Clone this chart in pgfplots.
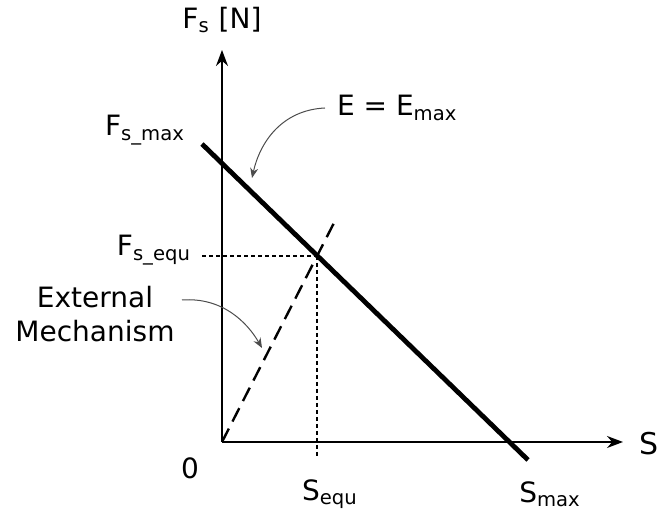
\documentclass[border=0pt]{standalone}
\usepackage{pgfplots}
\pgfplotsset{compat=1.18}
\usepackage{fontspec}
\setmainfont{DejaVu Sans}
\usetikzlibrary{arrows.meta}
\begin{document}
\begin{tikzpicture}
\begin{axis}[
  scale only axis, width=329.5pt, height=259pt,
  xmin=-222, xmax=437, ymin=-76, ymax=442,
  hide axis, clip=false,
]
\path (axis cs:-222,-76) rectangle (axis cs:437,442);
% axes
\addplot[black, line width=0.8pt, -{Stealth[length=8pt,width=6pt]}] coordinates {(0,0) (401,0)};
\addplot[black, line width=0.8pt, -{Stealth[length=8pt,width=6pt]}] coordinates {(0,0) (0,392)};
% E = Emax line
\addplot[black, line width=2.4pt] coordinates {(-20,298) (306,-18)};
% external mechanism
\addplot[black, line width=1.2pt, dash pattern=on 7.5pt off 4pt] coordinates {(0,0) (115,225)};
% dotted guides
\addplot[black, line width=0.6pt, dash pattern=on 2pt off 1.5pt] coordinates {(-20,186) (95,186)};
\addplot[black, line width=0.6pt, dash pattern=on 2pt off 1.5pt] coordinates {(95,186) (95,-15)};
% annotation arrows
\draw[black!70, line width=0.5pt, -{Stealth[length=5pt,width=4pt]}] (axis cs:103,334) .. controls (axis cs:60,332) and (axis cs:38,300) .. (axis cs:30,264);
\draw[black!70, line width=0.5pt, -{Stealth[length=5pt,width=4pt]}] (axis cs:-40,142) .. controls (axis cs:0,145) and (axis cs:25,120) .. (axis cs:40,94);
% labels
\node[font=\fontsize{14}{16}\selectfont] at (axis cs:0,422) {F\textsubscript{s} [N]};
\node[font=\fontsize{14}{16}\selectfont, anchor=west] at (axis cs:108,334) {E = E\textsubscript{max}};
\node[font=\fontsize{14}{16}\selectfont, anchor=east] at (axis cs:-30,312) {F\textsubscript{s\_max}};
\node[font=\fontsize{14}{16}\selectfont, anchor=east] at (axis cs:-24,192) {F\textsubscript{s\_equ}};
\node[font=\fontsize{14}{17}\selectfont, align=center] at (axis cs:-127,128) {External\\Mechanism};
\node[font=\fontsize{14}{16}\selectfont] at (axis cs:-32,-26) {0};
\node[font=\fontsize{14}{16}\selectfont] at (axis cs:108,-52) {S\textsubscript{equ}};
\node[font=\fontsize{14}{16}\selectfont] at (axis cs:328,-52) {S\textsubscript{max}};
\node[font=\fontsize{15}{16}\selectfont, anchor=east, inner xsep=0pt] at (axis cs:437,-2) {S};
\end{axis}
\end{tikzpicture}
\end{document}
